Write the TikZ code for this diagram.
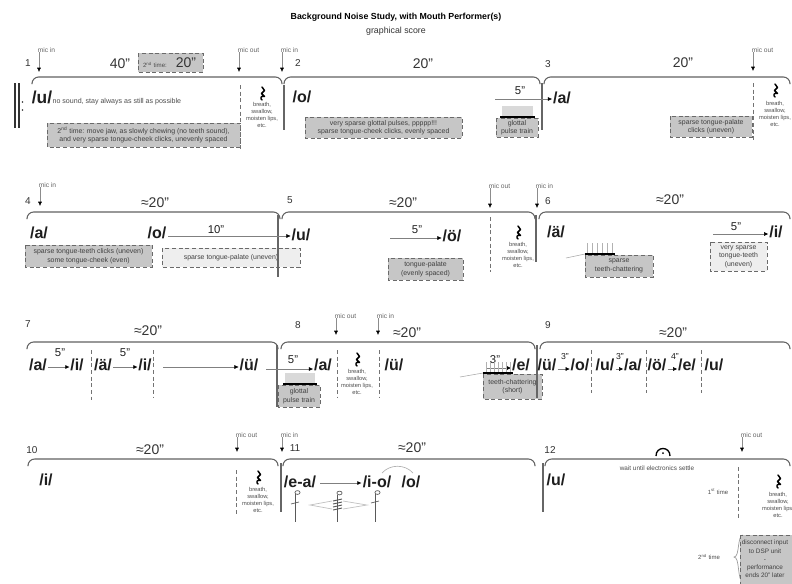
\documentclass[tikz,border=0pt]{standalone}
\usepackage{fontspec}
\setmainfont{Liberation Sans}
\usetikzlibrary{arrows.meta}
\definecolor{boxdark}{HTML}{C6C6C6}
\definecolor{boxlight}{HTML}{EEEEEE}
\definecolor{edgec}{HTML}{6A6A6A}
\definecolor{inkc}{HTML}{1E1E1E}
\tikzset{
  vowel/.style={inner sep=0pt, text=inkc, font=\fontsize{12}{14}\selectfont\bfseries},
  durtxt/.style={inner sep=0pt, text=inkc!90, font=\fontsize{10.5}{12}\selectfont},
  subdur/.style={inner sep=0pt, text=inkc, font=\fontsize{8.5}{10}\selectfont},
  tinydur/.style={inner sep=0pt, text=inkc, font=\fontsize{6.5}{7}\selectfont},
  secnum/.style={inner sep=0pt, text=black!80, font=\fontsize{7.5}{9}\selectfont},
  miclbl/.style={inner sep=0pt, text=black!60, font=\fontsize{5}{6}\selectfont, anchor=south west},
  breathtxt/.style={inner sep=0pt, text=black!70, align=center, font=\fontsize{4.3}{5.3}\selectfont},
  boxtxt/.style={inner sep=0pt, text=black!75, align=center, font=\fontsize{5.2}{6.4}\selectfont},
  smalltxt/.style={inner sep=0pt, text=black!70, font=\fontsize{5}{6}\selectfont},
  darkbox/.style={draw=edgec, densely dashed, line width=0.6pt, fill=boxdark},
  lightbox/.style={draw=edgec, densely dashed, line width=0.6pt, fill=boxlight},
  secbr/.style={draw=black!62, line width=0.8pt, rounded corners=5pt},
  divline/.style={draw=black!60, line width=0.8pt},
  dashv/.style={draw=black!55, densely dashed, line width=0.6pt},
  micarr/.style={draw=black!45, line width=0.4pt, -{Latex[length=3.2pt,width=3pt,color=black]}},
  varr/.style={draw=black!50, line width=0.4pt, -{Latex[length=3.2pt,width=3pt,color=black]}},
  restln/.style={draw=black, line width=1.1pt, line join=round, line cap=round},
  notec/.style={draw=black!65, line width=0.5pt},
  pinc/.style={draw=black!25, line width=0.5pt},
}
\newcommand{\secbrace}[3]{\draw[secbr] (#1,#3+7) -- (#1,#3) -- (#2,#3) -- (#2,#3+7);}
\newcommand{\qrest}[2]{\draw[restln] (#1,#2-6) -- (#1+2.5,#2-2.5) -- (#1-0.5,#2+0.5) -- (#1+2.5,#2+3.5) .. controls (#1-1.5,#2+2.5) and (#1-2,#2+5.5) .. (#1,#2+7);}
\newcommand{\breathblk}[4]{\qrest{#1}{#2}\node[breathtxt] (#4) at (#1,#3) {breath,\\swallow,\\moisten lips,\\etc.};}
\newcommand{\micmk}[5]{\node[miclbl] (#5) at (#1-1.5,#2) {#4};\coordinate (#5e) at (#1,#3);\draw[micarr] (#5e |- #5.south) ++(0,-1) -- (#5e);}
\newcommand{\ticks}[4]{\foreach \tx in {#1,#2,...,#3} {\draw[black!30, line width=0.4pt] (\tx,#4-11) -- (\tx,#4);}}
\begin{document}
\begin{tikzpicture}[x=0.75pt,y=-0.75pt]
\useasboundingbox (0,0) rectangle (792,583);
\clip (0,0) rectangle (792,583);
\fill[white] (0,0) rectangle (792,583);

% title
\node[inner sep=0pt, font=\fontsize{6.6}{8}\selectfont\bfseries] (title) at (396,17) {Background Noise Study, with Mouth Performer(s)};
\node[inner sep=0pt, text=black!80, font=\fontsize{6.6}{8}\selectfont] (subtitle) at (396,31) {graphical score};

% ================= ROW 1 =================
% repeat sign
\draw[line width=1.6pt, black!80] (15,83) -- (15,128);
\draw[line width=0.8pt, black!80] (19,83) -- (19,128);
\fill[black!80] (22.5,102) circle (0.9);
\fill[black!80] (22.5,110) circle (0.9);

% section 1
\node[secnum] (n1) at (28,63) {1};
\micmk{39}{53}{72}{mic in}{m1}
\node[durtxt] (d1) at (120,64) {40"};
\draw[darkbox] (138,53) rectangle (203,72);
\node[inner sep=0pt, text=black!70, font=\fontsize{4.6}{5}\selectfont] (d1b) at (155,65) {2\textsuperscript{nd} time:};
\node[durtxt] (d1c) at (186,63) {20"};
\micmk{239}{53}{72}{mic out}{m2}
\secbrace{32}{282}{77}
\node[vowel, font=\fontsize{13}{15}\selectfont\bfseries] (v1u) at (42,97) {/u/};
\node[smalltxt, anchor=base west, font=\fontsize{5.3}{6}\selectfont] (v1t) at (v1u.base east) {no sound, stay always as still as possible};
\draw[darkbox] (47,123) rectangle (240,147);
\node[boxtxt] (b1) at (143.5,135) {2\textsuperscript{nd} time: move jaw, as slowly chewing (no teeth sound),\\and very sparse tongue-cheek clicks, unevenly spaced};
\draw[dashv] (240,85) -- (240,150);
\breathblk{262}{93}{115}{br1}

% section 2
\draw[divline] (284,85) -- (284,130);
\micmk{282}{53}{72}{mic in}{m3}
\node[secnum] (n2) at (298,63) {2};
\node[durtxt] (d2) at (423,64) {20"};
\secbrace{284}{540}{77}
\node[vowel] (v2o) at (302,97) {/o/};
\draw[darkbox] (305,117) rectangle (462,138);
\node[boxtxt] (b2) at (383.5,127.5) {very sparse glottal pulses, ppppp!!!\\sparse tongue-cheek clicks, evenly spaced};
\node[subdur] (d2b) at (520,91) {5"};
\coordinate (a2s) at (495,99);
\fill[black!15] (502,106) rectangle (533,117);
\draw[line width=1.2pt] (500,117) -- (535,117);
\draw[darkbox] (496,118) rectangle (538,137);
\node[boxtxt] (b2b) at (517,127.5) {glottal\\pulse train};

% section 3
\draw[divline] (542,83) -- (542,130);
\node[secnum] (n3) at (548,64) {3};
\node[durtxt] (d3) at (683,63) {20"};
\micmk{753}{53}{71}{mic out}{m4}
\secbrace{544}{790}{77}
\node[vowel] (v3a) at (562,98) {/a/};
\draw[varr] (a2s) -- ([xshift=-0.5pt]v3a.west |- a2s);
\draw[darkbox] (670,116) rectangle (752,137);
\node[boxtxt] (b3) at (711,126.5) {sparse tongue-palate\\clicks (uneven)};
\draw[dashv] (753,83) -- (753,140);
\breathblk{775}{90}{114}{br3}

% ================= ROW 2 =================
% section 4
\micmk{40}{188}{206}{mic in}{m5}
\node[secnum] (n4) at (28,201) {4};
\node[durtxt] (d4) at (155,203) {≈20"};
\secbrace{27}{280}{212}
\node[vowel] (v4a) at (39,233) {/a/};
\draw[darkbox] (25,245) rectangle (152,267);
\node[boxtxt] (b4) at (88.5,256) {sparse tongue-teeth clicks (uneven)\\some tongue-cheek (even)};
\node[vowel] (v4o) at (157,233) {/o/};
\node[subdur] (d4b) at (216,230) {10"};
\draw[lightbox] (162,248) rectangle (300,267);
\node[boxtxt] (b4b) at (231,257.5) {sparse tongue-palate (uneven)};
\draw[divline] (278,215) -- (278,277);

% section 5
\node[secnum] (n5) at (290,200) {5};
\node[durtxt] (d5) at (403,203) {≈20"};
\secbrace{282}{535}{212}
\node[vowel] (v5u) at (301,235) {/u/};
\coordinate (a4s) at (168,236);
\draw[varr] (a4s) -- ([xshift=-0.5pt]v5u.west |- a4s);
\node[subdur] (d5b) at (417,230) {5"};
\coordinate (a5s) at (390,238);
\node[vowel] (v5o) at (452,236) {/ö/};
\draw[varr] (a5s) -- ([xshift=-0.5pt]v5o.west |- a5s);
\draw[darkbox] (388,258) rectangle (463,280);
\node[boxtxt] (b5) at (425.5,269) {tongue-palate\\(evenly spaced)};
\micmk{490}{189}{208}{mic out}{m6}
\draw[dashv] (490,217) -- (490,272);
\breathblk{518}{232}{255}{br5}

% section 6
\draw[divline] (536,215) -- (536,262);
\micmk{537}{189}{208}{mic in}{m7}
\node[secnum] (n6) at (548,201) {6};
\node[durtxt] (d6) at (670,200) {≈20"};
\secbrace{539}{790}{212}
\node[vowel] (v6a) at (556,232) {/ä/};
\draw[darkbox] (585,255) rectangle (653,277);
\node[boxtxt] (b6) at (619,266) {sparse\\teeth-chattering};
\ticks{587}{592}{613}{254}
\draw[black!35, line width=0.4pt] (566,258) -- (585,254);
\draw[line width=1.2pt] (585,254) -- (615,254);
\node[subdur] (d6b) at (736,227) {5"};
\coordinate (a6s) at (713,234);
\node[vowel] (v6i) at (776,232) {/i/};
\draw[varr] (a6s) -- ([xshift=-0.5pt]v6i.west |- a6s);
\draw[lightbox] (710,242) rectangle (767,271);
\node[boxtxt] (b6b) at (738.5,256.5) {very sparse\\tongue-teeth\\(uneven)};

% ================= ROW 3 =================
% section 7
\node[secnum] (n7) at (28,324) {7};
\node[durtxt] (d7) at (148,331) {≈20"};
\secbrace{27}{278}{342}
\node[vowel] (v7a) at (38,365) {/a/};
\node[subdur] (d7a) at (60,353) {5"};
\node[vowel] (v7i) at (77,365) {/i/};
\draw[varr] ([shift={(1,2)}]v7a.east) -- ([shift={(-0.5,2)}]v7i.west);
\draw[dashv] (91,350) -- (91,400);
\node[vowel] (v7ae) at (103,365) {/ä/};
\node[subdur] (d7b) at (125,353) {5"};
\node[vowel] (v7i2) at (145,365) {/i/};
\draw[varr] ([shift={(1,2)}]v7ae.east) -- ([shift={(-0.5,2)}]v7i2.west);
\draw[dashv] (153,350) -- (153,398);
\coordinate (a7s) at (163,367);
\node[vowel] (v7u) at (249,365) {/ü/};
\draw[varr] (a7s) -- ([xshift=-0.5pt]v7u.west |- a7s);

% section 8
\draw[divline] (277,345) -- (277,407);
\node[secnum] (n8) at (298,325) {8};
\micmk{336}{319}{335}{mic out}{m8}
\micmk{378}{319}{335}{mic in}{m9}
\node[durtxt] (d8) at (407,333) {≈20"};
\secbrace{281}{535}{342}
\node[subdur] (d8a) at (293,360) {5"};
\coordinate (a8s) at (266,369);
\node[vowel] (v8a) at (323,365) {/a/};
\draw[varr] (a8s) -- ([xshift=-0.5pt]v8a.west |- a8s);
\fill[black!15] (285,373) rectangle (315,383);
\draw[darkbox] (278,385) rectangle (320,407);
\draw[line width=1.2pt] (283,384) -- (317,384);
\node[boxtxt] (b8) at (299,396) {glottal\\pulse train};
\draw[dashv] (337,350) -- (337,397);
\breathblk{357}{359}{382}{br8}
\draw[dashv] (379,350) -- (379,397);
\node[vowel] (v8u) at (394,365) {/ü/};
\node[subdur] (d8b) at (495,360) {3"};
\coordinate (a8t) at (486,368);
\node[vowel] (v8e) at (521,365) {/e/};
\draw[varr] (a8t) -- ([xshift=-0.5pt]v8e.west |- a8t);
\draw[darkbox] (483,374) rectangle (542,399);
\node[boxtxt] (b8b) at (512.5,386.5) {teeth-chattering\\(short)};
\ticks{486}{490}{510}{373}
\draw[black!35, line width=0.4pt] (460,377) -- (483,373);
\draw[line width=1.2pt] (483,373) -- (513,373);

% section 9
\draw[divline] (537,345) -- (537,398);
\node[secnum] (n9) at (548,325) {9};
\node[durtxt] (d9) at (673,333) {≈20"};
\secbrace{540}{790}{342}
\node[vowel] (v9a) at (547,365) {/ü/};
\node[vowel] (v9b) at (580,365) {/o/};
\node[vowel] (v9c) at (605,365) {/u/};
\node[vowel] (v9d) at (633,365) {/a/};
\node[vowel] (v9e) at (657,365) {/ö/};
\node[vowel] (v9f) at (687,365) {/e/};
\node[vowel] (v9g) at (714,365) {/u/};
\node[tinydur] (d9a) at (565,357) {3"};
\node[tinydur] (d9b) at (620,357) {3"};
\node[tinydur] (d9c) at (675,357) {4"};
\draw[varr] ([shift={(1,4)}]v9a.east) -- ([shift={(-0.5,4)}]v9b.west);
\draw[varr] ([shift={(1,4)}]v9c.east) -- ([shift={(-0.5,4)}]v9d.west);
\draw[varr] ([shift={(1,4)}]v9e.east) -- ([shift={(-0.5,4)}]v9f.west);
\draw[dashv] (591,350) -- (591,393);
\draw[dashv] (646,350) -- (646,393);
\draw[dashv] (701,350) -- (701,393);

% ================= ROW 4 =================
% section 10
\node[secnum] (n10) at (32,450) {10};
\node[durtxt] (d10) at (150,450) {≈20"};
\secbrace{28}{278}{459}
\micmk{237}{438}{452}{mic out}{m10}
\node[vowel] (v10i) at (46,480) {/i/};
\draw[dashv] (236,470) -- (236,515);
\breathblk{258}{477}{500}{br10}

% section 11
\draw[divline] (281,463) -- (281,512);
\micmk{282}{438}{452}{mic in}{m11}
\node[secnum] (n11) at (295,448) {11};
\node[durtxt] (d11) at (412,448) {≈20"};
\secbrace{283}{535}{459}
\node[vowel] (v11a) at (300,482) {/e-a/};
\node[vowel] (v11b) at (377,482) {/i-o/};
\node[vowel] (v11c) at (411,482) {/o/};
\draw[varr] ([shift={(4,1)}]v11a.east) -- ([shift={(-1,1)}]v11b.west);
\draw[black!30, line width=0.5pt] (382,473) .. controls (390,464) and (405,464) .. (413,473);
% notes
\draw[notec] (297.5,492.5) ellipse [x radius=2.6, y radius=1.9];
\draw[notec] (295,494) -- (295,522);
\draw[notec] (291,504) -- (299,502);
\draw[notec] (339.5,493) ellipse [x radius=2.6, y radius=1.9];
\draw[notec] (337,495) -- (337,522);
\foreach \ny in {500,503,506,509} {\draw[notec, line width=0.7pt] (333,\ny+1) -- (342,\ny-1);}
\draw[notec] (377.5,492.5) ellipse [x radius=2.6, y radius=1.9];
\draw[notec] (375,494) -- (375,522);
\draw[notec] (371,503) -- (379,501);
\draw[pinc] (332,501) -- (310,505) -- (332,509);
\draw[pinc] (343,501) -- (367,505) -- (343,509);

% section 12
\draw[divline] (543,463) -- (543,512);
\node[secnum] (n12) at (550,450) {12};
\draw[line width=1pt] (656,456) .. controls (656,446) and (670,446) .. (670,456);
\fill (663,453) circle (1);
\micmk{742}{438}{452}{mic out}{m12}
\secbrace{545}{790}{459}
\node[smalltxt, font=\fontsize{4.8}{6}\selectfont] (w12) at (657,468) {wait until electronics settle};
\node[vowel] (v12u) at (556,480) {/u/};
\node[smalltxt, font=\fontsize{4.5}{6}\selectfont] (t12a) at (718,492) {1\textsuperscript{st} time};
\draw[dashv] (738,467) -- (738,518);
\breathblk{778}{481}{505}{br12}
\node[smalltxt, font=\fontsize{4.5}{6}\selectfont] (t12b) at (709,557) {2\textsuperscript{nd} time};
\draw[black!40, line width=0.5pt] (743,535) .. controls (737,535) and (740,557) .. (734,557) .. controls (740,557) and (737,580) .. (743,583);
\draw[darkbox] (740,535) rectangle (805,595);
\node[boxtxt, font=\fontsize{4.8}{6.2}\selectfont] (b12) at (765,559) {disconnect input\\to DSP unit\\-\\performance\\ends 20" later};
\end{tikzpicture}
\end{document}
